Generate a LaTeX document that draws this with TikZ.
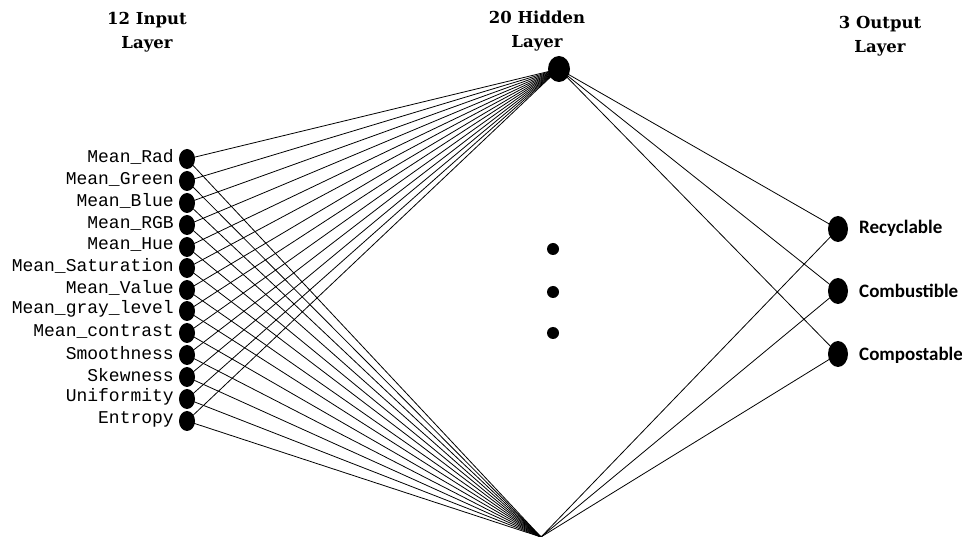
\documentclass[tikz,border=0pt]{standalone}
\usepackage{fontspec}
\setmonofont{Liberation Mono}
\newfontfamily\headfont{DejaVu Serif}
\newfontfamily\outfont{Carlito}
\usetikzlibrary{shapes.geometric,backgrounds}
\begin{document}
\begin{tikzpicture}[x=1pt,y=-1pt,
  innode/.style={ellipse,fill=black,minimum width=16pt,minimum height=20pt,inner sep=0pt},
  hnode/.style={ellipse,fill=black,minimum width=22pt,minimum height=26pt,inner sep=0pt},
  onode/.style={ellipse,fill=black,minimum width=20pt,minimum height=26pt,inner sep=0pt},
  dotnode/.style={circle,fill=black,minimum size=12pt,inner sep=0pt},
  inlabel/.style={anchor=east,inner sep=0pt,font=\ttfamily\fontsize{18}{18}\selectfont},
  outlabel/.style={anchor=west,inner sep=0pt,font=\outfont\bfseries\fontsize{19}{19}\selectfont},
  head/.style={align=center,font=\headfont\bfseries\fontsize{16.5}{24}\selectfont,inner sep=0pt},
  link/.style={line width=0.8pt}]
\useasboundingbox (0,0) rectangle (962,537);
% headers
\node[head] (t1) at (147,32) {12 Input\\Layer};
\node[head] (t2) at (537,31) {20 Hidden\\Layer};
\node[head] (t3) at (880,36) {3 Output\\Layer};
% hidden
\node[hnode] (h1) at (559,69) {};
\coordinate (h2) at (541,537);
\node[dotnode] (d1) at (553,249) {};
\node[dotnode] (d2) at (553,292) {};
\node[dotnode] (d3) at (553,333) {};
% outputs
\node[onode] (o1) at (838,229) {};
\node[onode] (o2) at (838,291) {};
\node[onode] (o3) at (838,354) {};
\node[outlabel] (ol1) at (859,228) {Recyclable};
\node[outlabel] (ol2) at (859,291) {Combustible};
\node[outlabel] (ol3) at (859,355) {Compostable};
% inputs
\foreach \i/\y/\t in {1/159/Mean\_Rad,2/181/Mean\_Green,3/203/Mean\_Blue,4/225/Mean\_RGB,5/247/Mean\_Hue,6/268/Mean\_Saturation,7/290/Mean\_Value,8/311/Mean\_gray\_level,9/333/Mean\_contrast,10/355/Smoothness,11/377/Skewness,12/399/Uniformity,13/421/Entropy}{
  \node[innode] (i\i) at (187,\y) {};
  \node[inlabel] (l\i) at (174,\y-2) {\t};
}
\begin{scope}[on background layer]
\foreach \i in {1,...,13}{
  \draw[link] (i\i.center) -- (h1.center);
  \draw[link] (i\i.center) -- (h2);
}
\foreach \j in {1,2,3}{
  \draw[link] (h1.center) -- (o\j.center);
  \draw[link] (h2) -- (o\j.center);
}
\end{scope}
\end{tikzpicture}
\end{document}
